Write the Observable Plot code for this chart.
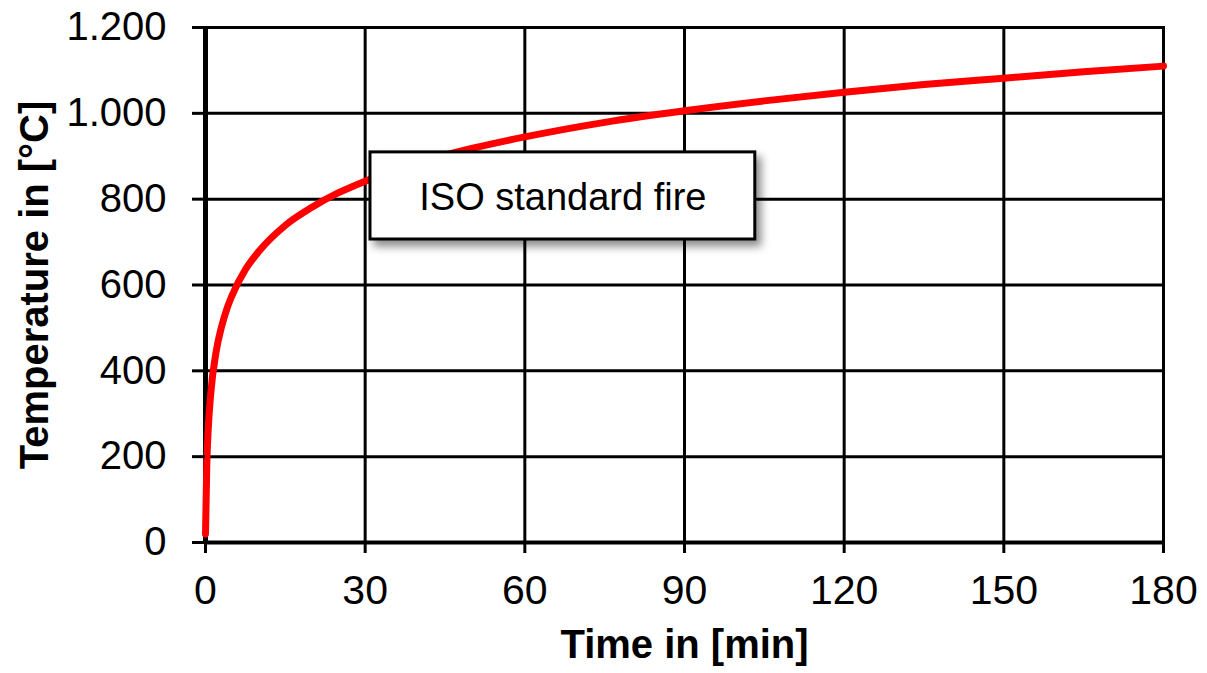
<!DOCTYPE html>
<html>
<head>
<meta charset="utf-8">
<script src="https://cdn.jsdelivr.net/npm/d3@7"></script>
<script src="https://cdn.jsdelivr.net/npm/@observablehq/plot@0.6"></script>
<style>
  html, body { margin: 0; padding: 0; background: #fff; }
  #chart { width: 1207px; height: 673px; }
</style>
</head>
<body>
<div id="chart"></div>
<script>
// Values
const times = [0, 0.25, 0.5, 1, 2, 3, 4, 5, 7.5, 10, 15, 20, 25, 30, 40, 50, 60, 75, 90, 105, 120, 135, 150, 165, 180];
const temps = [20, 185, 261, 349, 445, 502, 544, 576, 636, 678, 739, 781, 815, 842, 885, 918, 945, 979, 1006, 1029, 1049, 1067, 1082, 1097, 1110];
const xTicks = [0, 30, 60, 90, 120, 150, 180];
const yTicks = [0, 200, 400, 600, 800, 1000, 1200];
const xTitle = "Time in [min]";
const yTitle = "Temperature in [°C]";
const annotationLabel = "ISO standard fire";
const annotationTime = [31, 103.3];
const annotationTemp = [706, 909];

const data = times.map((t, i) => ({t, T: temps[i]}));
const annotation = [{
  label: annotationLabel,
  x1: annotationTime[0], x2: annotationTime[1],
  y1: annotationTemp[0], y2: annotationTemp[1],
  xm: (annotationTime[0] + annotationTime[1]) / 2,
  ym: (annotationTemp[0] + annotationTemp[1]) / 2
}];
const fmt = d => d3.format(",")(d).replace(/,/g, ".");

const plot = Plot.plot({
  width: 1207,
  height: 673,
  marginLeft: 205,
  marginRight: 44,
  marginTop: 27,
  marginBottom: 131,
  x: {domain: [0, 180]},
  y: {domain: [0, 1200]},
  style: {fontFamily: "'Liberation Sans', Arial, sans-serif", background: "white", color: "black", overflow: "visible"},
  marks: [
    Plot.gridX(xTicks, {stroke: "black", strokeOpacity: 1, strokeWidth: 3}),
    Plot.gridY(yTicks, {stroke: "black", strokeOpacity: 1, strokeWidth: 3}),
    Plot.frame({stroke: "black", strokeWidth: 3}),
    Plot.ruleX([0], {stroke: "black", strokeWidth: 5}),
    Plot.ruleY([0], {stroke: "black", strokeWidth: 4}),
    Plot.line(data, {x: "t", y: "T", stroke: "#ff0000", strokeWidth: 7, curve: "monotone-x"}),
    Plot.rect(annotation, {x1: "x1", x2: "x2", y1: "y1", y2: "y2", fill: "white", stroke: "black", strokeWidth: 3}),
    Plot.text(annotation, {x: "xm", y: "ym", text: "label", fontSize: 38, fill: "black", dy: 2}),
    Plot.axisX(xTicks, {tickSize: 11, tickPadding: 21, fontSize: 41, strokeWidth: 3, label: null}),
    Plot.axisY(yTicks, {tickSize: 13, tickPadding: 26, fontSize: 40, strokeWidth: 3, tickFormat: fmt, label: null}),
    Plot.text([xTitle], {frameAnchor: "bottom", textAnchor: "middle", dy: 115, fontSize: 40, fontWeight: "bold", fill: "black"}),
    Plot.text([yTitle], {frameAnchor: "left", textAnchor: "middle", dx: -170, rotate: -90, fontSize: 40, fontWeight: "bold", fill: "black"})
  ]
});

d3.select(plot).selectAll('g[aria-label="rect"]').style("filter", "drop-shadow(5px 6px 4px rgba(0,0,0,0.45))");
document.getElementById("chart").appendChild(plot);
</script>
</body>
</html>
